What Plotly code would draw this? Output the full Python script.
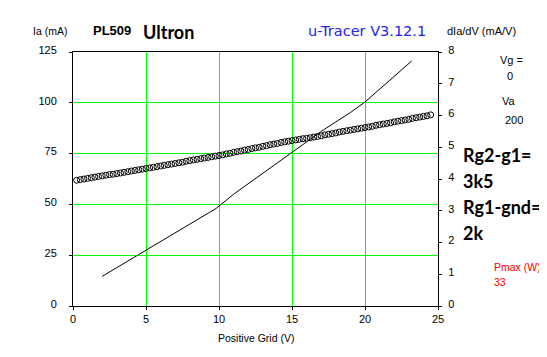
import plotly.graph_objects as go

# ---- data ----
# Anode current Ia (mA) vs positive grid voltage (V)  -> left axis
vg_line = [2, 3, 4, 5, 6, 7, 8, 9, 9.8, 11, 12, 13, 14, 15, 16, 17, 18, 19, 20, 21, 22, 23.2]
ia_line = [14.6, 18.9, 23.2, 27.5, 31.7, 36.0, 40.2, 44.5, 48.0, 55.0, 60.2, 65.3, 70.5,
           75.6, 80.8, 85.9, 90.6, 95.2, 100.4, 106.7, 113.0, 120.6]

# dIa/dV (mA/V) vs positive grid voltage (V)  -> right axis (circles)
vg_gm = [0.25, 0.5, 0.75, 1.0, 1.25, 1.5, 1.75, 2.0, 2.25, 2.5, 2.75, 3.0, 3.25, 3.5, 3.75,
         4.0, 4.25, 4.5, 4.75, 5.0, 5.25, 5.5, 5.75, 6.0, 6.25, 6.5, 6.75, 7.0, 7.25, 7.5,
         7.75, 8.0, 8.25, 8.5, 8.75, 9.0, 9.25, 9.5, 9.75, 10.0, 10.25, 10.5, 10.75, 11.0,
         11.25, 11.5, 11.75, 12.0, 12.25, 12.5, 12.75, 13.0, 13.25, 13.5, 13.75, 14.0,
         14.25, 14.5, 14.75, 15.0, 15.25, 15.5, 15.75, 16.0, 16.25, 16.5, 16.75, 17.0,
         17.25, 17.5, 17.75, 18.0, 18.25, 18.5, 18.75, 19.0, 19.25, 19.5, 19.75, 20.0,
         20.25, 20.5, 20.75, 21.0, 21.25, 21.5, 21.75, 22.0, 22.25, 22.5, 22.75, 23.0,
         23.25, 23.5, 23.75, 24.0, 24.25, 24.5]
gm = [3.96, 3.98, 4.00, 4.02, 4.04, 4.06, 4.08, 4.10, 4.12, 4.14, 4.15, 4.17, 4.19, 4.21,
      4.23, 4.25, 4.27, 4.29, 4.31, 4.33, 4.35, 4.37, 4.39, 4.41, 4.43, 4.45, 4.47, 4.49,
      4.51, 4.53, 4.56, 4.58, 4.60, 4.62, 4.64, 4.66, 4.68, 4.70, 4.72, 4.74, 4.76, 4.79,
      4.81, 4.84, 4.86, 4.88, 4.91, 4.93, 4.96, 4.98, 5.00, 5.03, 5.05, 5.08, 5.10, 5.12,
      5.15, 5.17, 5.19, 5.21, 5.23, 5.25, 5.27, 5.28, 5.30, 5.32, 5.34, 5.36, 5.39, 5.41,
      5.43, 5.45, 5.48, 5.50, 5.52, 5.54, 5.56, 5.58, 5.60, 5.62, 5.64, 5.66, 5.69, 5.71,
      5.73, 5.75, 5.77, 5.80, 5.82, 5.84, 5.86, 5.88, 5.91, 5.93, 5.95, 5.97, 5.99, 6.02]

x_ticks = [0, 5, 10, 15, 20, 25]
y_ticks = [0, 25, 50, 75, 100, 125]
y2_ticks = [0, 1, 2, 3, 4, 5, 6, 7, 8]

# ---- figure ----
# page body has an 8 px margin, so the figure starts at (8, 8) in the window
OFF = 8
WIN_W, WIN_H = 547, 357
L_PAGE, R_PAGE, T_PAGE, B_PAGE = 73, 438, 52, 306   # plot area in window pixels
W, H = WIN_W - OFF, WIN_H - OFF
L, T = L_PAGE - OFF, T_PAGE - OFF
R, B = WIN_W - R_PAGE, WIN_H - B_PAGE
PW, PH = R_PAGE - L_PAGE, B_PAGE - T_PAGE


def px(xp):
    return (xp - L_PAGE) / PW


def py(yp):
    return (B_PAGE - yp) / PH


fig = go.Figure()
fig.add_trace(go.Scatter(x=vg_line, y=ia_line, mode="lines",
                         line=dict(color="black", width=1), yaxis="y",
                         showlegend=False, hoverinfo="skip"))
fig.add_trace(go.Scatter(x=vg_gm, y=gm, mode="markers", yaxis="y2",
                         marker=dict(symbol="circle-open", size=6, color="black",
                                     line=dict(width=1, color="black")),
                         showlegend=False, hoverinfo="skip"))

tickfont = dict(family="Liberation Sans, Arial, sans-serif", size=11, color="black")
grid = "#00ff00"

fig.update_layout(
    width=W, height=H, autosize=False,
    margin=dict(l=L, r=R, t=T, b=B, pad=0),
    paper_bgcolor="white", plot_bgcolor="white",
    xaxis=dict(range=[0, 25], tickvals=x_ticks, showgrid=True, gridcolor=grid, gridwidth=1,
               zeroline=False, showline=True, linecolor="black", linewidth=1, mirror=True,
               ticks="outside", ticklen=3, tickcolor="black", tickfont=tickfont),
    yaxis=dict(range=[0, 125], tickvals=y_ticks, showgrid=True, gridcolor=grid, gridwidth=1,
               zeroline=False, showline=True, linecolor="black", linewidth=1, mirror=True,
               ticks="outside", ticklen=3, tickcolor="black", tickfont=tickfont,
               ticklabelstandoff=10, ticklabelshift=-2),
    yaxis2=dict(range=[0, 8], tickvals=y2_ticks, overlaying="y", side="right",
                showgrid=False, zeroline=False, showline=True, linecolor="black",
                linewidth=1, ticks="outside", ticklen=3, tickcolor="black",
                tickfont=tickfont, ticklabelstandoff=4, ticklabelshift=-2),
)

small = "Liberation Sans, Arial, sans-serif"
ann = []


def add(text, x, y, size, color="black", family=small, xanchor="left", bold=False):
    t = f"<b>{text}</b>" if bold else text
    ann.append(dict(text=t, x=px(x), y=py(y), xref="paper", yref="paper",
                    xanchor=xanchor, yanchor="middle", showarrow=False,
                    font=dict(family=family, size=size, color=color)))


add("Ia (mA)", 50, 31, 10.5, xanchor="center")
add("PL509", 91, 31, 13, bold=True)
add("Ultron", 141, 32, 18, family="Lato, sans-serif", bold=True)
add("u-Tracer V3.12.1", 306, 31, 14.5, color="#2222ee", family="DejaVu Sans, sans-serif")
add("dIa/dV (mA/V)", 445, 31, 11)
add("Vg =", 498, 60, 11)
add("0", 505, 76, 11)
add("Va", 500, 101, 11)
add("200", 503, 120, 11)
add("Rg2-g1=", 461, 155, 18, family="Lato, sans-serif", bold=True)
add("3k5", 461, 181, 18, family="Lato, sans-serif", bold=True)
add("Rg1-gnd=", 461, 207, 18, family="Lato, sans-serif", bold=True)
add("2k", 461, 233, 18, family="Lato, sans-serif", bold=True)
add("Pmax (W):", 492, 267, 10.5, color="#ff0000")
add("33", 492, 282, 10.5, color="#ff0000")
add("Positive Grid (V)", 256, 338, 10.5, xanchor="center")

fig.update_layout(annotations=ann)
fig.write_html("out.html")
